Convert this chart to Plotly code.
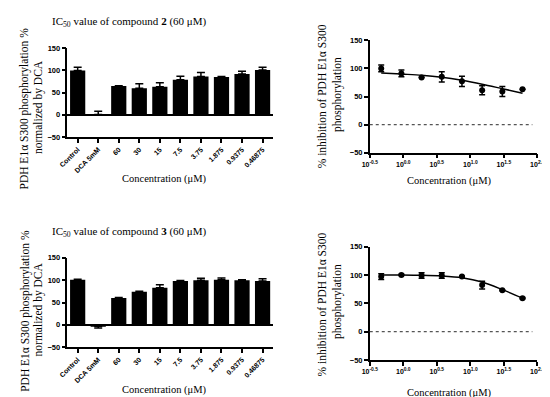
import plotly.graph_objects as go

W, H = 550, 397

# ---- data ----
categories = ["Control", "DCA 5mM", "60", "30", "15", "7.5", "3.75", "1.875", "0.9375", "0.46875"]

bar2_values = [100, 1, 65, 60, 63, 79, 86, 85, 92, 101]
bar2_err_up = [7, 7, 0.5, 10, 9, 8, 9, 1, 6, 6]
bar2_err_down = [0, 0, 0, 0, 0, 0, 0, 0, 0, 0]

bar3_values = [101, -3, 60, 74, 83, 98, 100, 101, 100, 98]
bar3_err_up = [1, 0, 1, 1, 7, 1, 4, 4, 1, 5]
bar3_err_down = [0, 4, 0, 0, 0, 0, 0, 0, 0, 0]

conc = [0.46875, 0.9375, 1.875, 3.75, 7.5, 15, 30, 60]

inh2_values = [100, 91, 84, 85, 77, 61, 59, 63]
inh2_err = [6, 6, 0, 9, 9, 8, 9, 0]
fit2_values = [92, 90, 88, 84.5, 79, 72, 64, 56]

inh3_values = [97, 100, 99, 99, 97, 82, 73, 59]
inh3_err = [5, 1, 5, 5, 1, 7, 1, 1]
fit3_values = [100, 99.8, 99.3, 98, 95, 87.5, 74, 59]

y_ticks = [-50, 0, 50, 100, 150]
log_tick_exp = [-0.5, 0.0, 0.5, 1.0, 1.5, 2.0]
log_tick_text = ["10<sup>-0.5</sup>", "10<sup>0.0</sup>", "10<sup>0.5</sup>",
                 "10<sup>1.0</sup>", "10<sup>1.5</sup>", "10<sup>2.0</sup>"]

SERIF = "Liberation Serif"
SANS = "Liberation Sans"

def px_x(p):
    return p / W

def px_y(p):
    return 1 - p / H

fig = go.Figure()

# ---- bar charts ----
for vals, up, down, xa, ya in [
    (bar2_values, bar2_err_up, bar2_err_down, "x", "y"),
    (bar3_values, bar3_err_up, bar3_err_down, "x3", "y3"),
]:
    fig.add_trace(go.Bar(
        x=categories, y=vals, xaxis=xa, yaxis=ya,
        marker=dict(color="black", line=dict(width=0)),
        width=0.74,
        error_y=dict(type="data", array=up, arrayminus=down, symmetric=False,
                     color="black", thickness=1.5, width=4),
        showlegend=False,
    ))

# ---- dose-response ----
for vals, err, fit, xa, ya in [
    (inh2_values, inh2_err, fit2_values, "x2", "y2"),
    (inh3_values, inh3_err, fit3_values, "x4", "y4"),
]:
    fig.add_trace(go.Scatter(
        x=conc, y=fit, xaxis=xa, yaxis=ya, mode="lines",
        line=dict(color="black", width=1.5, shape="spline", smoothing=0.8),
        showlegend=False,
    ))
    fig.add_trace(go.Scatter(
        x=conc, y=vals, xaxis=xa, yaxis=ya, mode="markers",
        marker=dict(color="black", size=6),
        error_y=dict(type="data", array=err, color="black", thickness=1.5, width=3),
        showlegend=False,
    ))

tickfont = dict(family=SANS, size=7.5, color="black", weight="bold")

def yaxis_common(domain, anchor, zeroline):
    return dict(
        domain=domain, anchor=anchor, range=[-50, 150], tickvals=y_ticks,
        showgrid=False, showline=True, linecolor="black", linewidth=1.5,
        ticks="outside", ticklen=4, tickwidth=1.5, tickcolor="black",
        tickfont=tickfont, zeroline=zeroline, zerolinecolor="black", zerolinewidth=1.5,
    )

def xbar_axis(domain, anchor):
    return dict(
        domain=domain, anchor=anchor, type="category", range=[-0.5, 9.5],
        showgrid=False, showline=True, linecolor="black", linewidth=1.5,
        ticks="outside", ticklen=4, tickwidth=1.5, tickcolor="black",
        tickangle=-45, tickfont=dict(family=SANS, size=7, color="black", weight="bold"),
    )

def xlog_axis(domain, anchor):
    return dict(
        domain=domain, anchor=anchor, type="log", range=[-0.5, 2.0],
        tickvals=[10 ** e for e in log_tick_exp], ticktext=log_tick_text,
        showgrid=False, showline=True, linecolor="black", linewidth=1.5,
        ticks="outside", ticklen=4, tickwidth=1.5, tickcolor="black",
        tickfont=dict(family=SANS, size=7, color="black", weight="bold"),
        zeroline=False, ticklabeloverflow="allow",
    )

bar_xdom = [px_x(52), px_x(264)]
log_xdom = [px_x(364), px_x(537)]

fig.update_layout(
    width=W, height=H, margin=dict(l=0, r=0, t=0, b=0),
    plot_bgcolor="white", paper_bgcolor="white", bargap=0.26,
    xaxis=xbar_axis(bar_xdom, "y"),
    yaxis=yaxis_common([px_y(128), px_y(37)], "x", True),
    xaxis2=xlog_axis(log_xdom, "y2"),
    yaxis2=yaxis_common([px_y(144), px_y(29)], "x2", False),
    xaxis3=xbar_axis(bar_xdom, "y3"),
    yaxis3=yaxis_common([px_y(343), px_y(251.5)], "x3", True),
    xaxis4=xlog_axis(log_xdom, "y4"),
    yaxis4=yaxis_common([px_y(356), px_y(240)], "x4", False),
)

# dotted zero lines on dose-response plots
for xr, yr in [("x2", "y2"), ("x4", "y4")]:
    fig.add_shape(type="line", xref=f"{xr} domain", yref=yr, x0=0.0, x1=0.97, y0=0, y1=0,
                  line=dict(color="#555555", width=1.2, dash="dot"))

def ann(text, x, y, size=11, angle=0, **kw):
    fig.add_annotation(text=text, x=px_x(x), y=px_y(y), xref="paper", yref="paper",
                       showarrow=False, textangle=angle,
                       font=dict(family=SERIF, size=size, color="black"),
                       xanchor="center", yanchor="middle", **kw)

# titles
ann("IC<sub>50</sub> value of compound <b>2</b> (60 μM)", 116, 10)
ann("IC<sub>50</sub> value of compound <b>3</b> (60 μM)", 116, 225)

# left y titles
ann("PDH E1α S300 phosphorylation %", 8, 99, size=11.5, angle=-90)
ann("normalized by DCA", 22, 97, size=11.5, angle=-90)
ann("PDH E1α S300 phosphorylation %", 8, 306, size=11.5, angle=-90)
ann("normalized by DCA", 22, 304, size=11.5, angle=-90)

# right y titles
ann("% inhibition of PDH E1α S300", 315, 86, size=11.5, angle=-90)
ann("phosphorylation", 330, 84, size=11.5, angle=-90)
ann("% inhibition of PDH E1α S300", 315, 299, size=11.5, angle=-90)
ann("phosphorylation", 330, 296, size=11.5, angle=-90)

# x titles
ann("Concentration (μM)", 152, 171, size=10.5)
ann("Concentration (μM)", 446, 173, size=10.5)
ann("Concentration (μM)", 152, 387, size=10.5)
ann("Concentration (μM)", 446, 390, size=10.5)

fig.write_html("out.html")
